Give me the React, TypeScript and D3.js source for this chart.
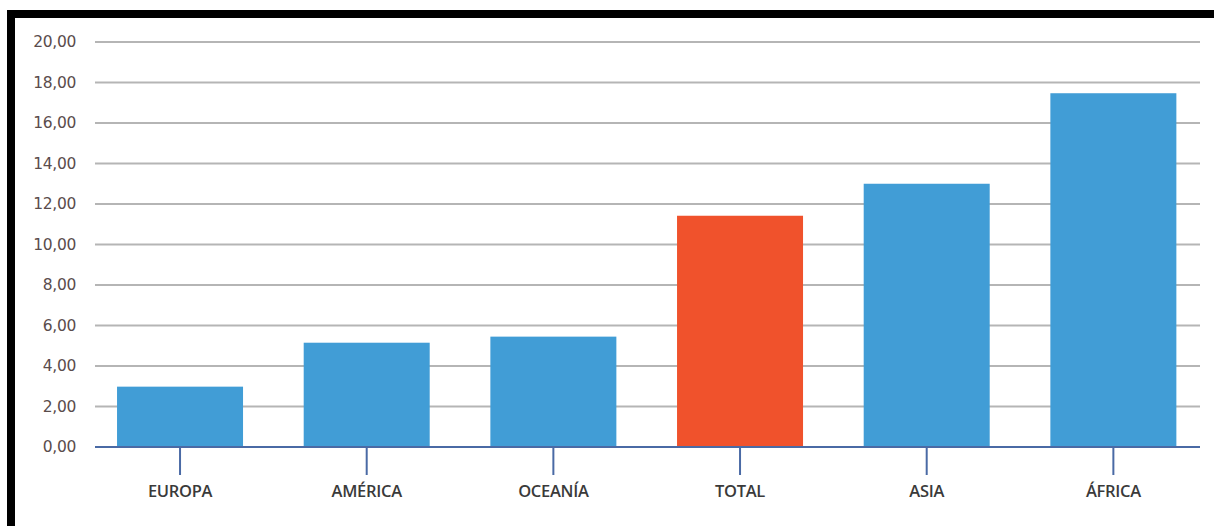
import React from "react";
import * as d3 from "d3";

const categories = ["EUROPA", "AMÉRICA", "OCEANÍA", "TOTAL", "ASIA", "ÁFRICA"];
const values = [2.98, 5.15, 5.45, 11.42, 13.0, 17.47];
const highlight = ["TOTAL"];
const yTicks = [0, 2, 4, 6, 8, 10, 12, 14, 16, 18, 20];

const W = 1214;
const H = 526;

export default function App() {
  const y = d3.scaleLinear().domain([0, 20]).range([447, 42]);
  const x = d3
    .scaleBand<string>()
    .domain(categories)
    .range([86.7, 1206.7])
    .paddingInner(0.325)
    .paddingOuter(0.1625);
  const fmt = (v: number) => v.toFixed(2).replace(".", ",");
  return (
    <svg
      width={W}
      height={H}
      style={{ position: "absolute", left: 0, top: 0, background: "#fff" }}
    >
      <rect x={0} y={0} width={W} height={H} fill="#fff" />
      <rect x={7} y={10} width={W - 7} height={8} fill="#000" />
      <rect x={7} y={10} width={8} height={H - 10} fill="#000" />
      {yTicks.map((t) => (
        <g key={t}>
          {t !== 0 && (
            <line
              x1={95}
              x2={1200}
              y1={y(t)}
              y2={y(t)}
              stroke="#b5b5b5"
              strokeWidth={2}
            />
          )}
          <text
            x={76}
            y={y(t)}
            dy="0.35em"
            textAnchor="end"
            fontFamily="'DejaVu Sans', sans-serif"
            fontSize={15.5}
            fill="#5a4c4c"
            letterSpacing={-0.3}
          >
            {fmt(t)}
          </text>
        </g>
      ))}
      {categories.map((c, i) => (
        <rect
          key={c}
          x={x(c)}
          y={y(values[i])}
          width={x.bandwidth()}
          height={y(0) - y(values[i])}
          fill={highlight.includes(c) ? "#f0522c" : "#419dd6"}
        />
      ))}
      <line x1={95} x2={1200} y1={y(0)} y2={y(0)} stroke="#4a6aa5" strokeWidth={2} />
      {categories.map((c) => {
        const cx = (x(c) as number) + x.bandwidth() / 2;
        return (
          <g key={c}>
            <line x1={cx} x2={cx} y1={y(0)} y2={475} stroke="#4a6aa5" strokeWidth={2} />
            <text
              x={cx}
              y={497}
              textAnchor="middle"
              fontFamily="'Open Sans', sans-serif"
              fontSize={16.5}
              fontWeight={600}
              fill="#3a3a3a"
              letterSpacing={-0.3}
            >
              {c}
            </text>
          </g>
        );
      })}
    </svg>
  );
}
